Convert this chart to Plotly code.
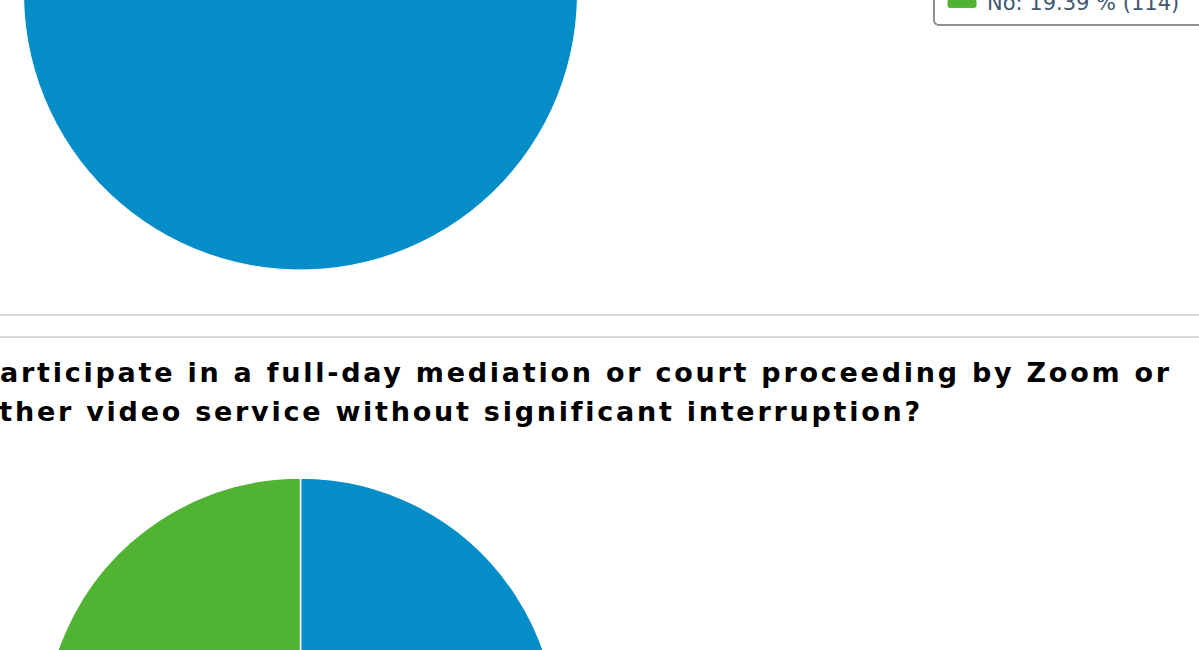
"""Survey results: two pie charts (cropped page view)."""

import plotly.graph_objects as go

# Colour scheme (classic Highcharts palette)
BLUE = "#058DC7"
GREEN = "#50B432"
LEGEND_TEXT = "#3E576F"
RULE = "#d9d9d9"

# Page geometry: the figure is taller than the window and shifted up,
# so only the lower part of the first pie shows, as in the screenshot.
W, H = 1199, 1300
OFFSET = 300

# Data
q1_labels = ["Yes", "No"]
q1_counts = [474, 114]

q2_labels = ["Yes", "No"]
q2_counts = [372, 216]

q2_title = [
    "participate in a full-day mediation or court proceeding by Zoom or",
    "other video service without significant interruption?",
]


def legend_text(labels, counts):
    total = sum(counts)
    return [f"{l}: {c / total * 100:.2f} % ({c})" for l, c in zip(labels, counts)]


def px_domain(cx, cy, r):
    """Pie domain (paper units) for a pie centred at page px cx, cy."""
    return {
        "x": [(cx - r) / W, (cx + r) / W],
        "y": [1 - (cy + r) / H, 1 - (cy - r) / H],
    }


fig = go.Figure()

fig.add_trace(go.Pie(
    labels=legend_text(q1_labels, q1_counts),
    values=q1_counts,
    sort=False,
    direction="clockwise",
    rotation=0,
    textinfo="none",
    hoverinfo="label",
    marker={"colors": [BLUE, GREEN], "line": {"color": "white", "width": 1}},
    domain=px_domain(300.5, OFFSET - 7, 277),
))

fig.add_trace(go.Pie(
    labels=q2_labels,
    values=q2_counts,
    sort=False,
    direction="clockwise",
    rotation=0,
    textinfo="none",
    hoverinfo="label+percent",
    showlegend=False,
    marker={"colors": [BLUE, GREEN], "line": {"color": "white", "width": 1.5}},
    domain=px_domain(300.5, OFFSET + 735, 257),
))

# separator rules between the two questions
for y in (315, 337):
    fig.add_shape(
        type="line", xref="paper", yref="paper",
        x0=0, x1=1, y0=1 - (OFFSET + y) / H, y1=1 - (OFFSET + y) / H,
        line={"color": RULE, "width": 2},
    )

# question title, overflowing the left edge like the original page
for i, line in enumerate(q2_title):
    fig.add_annotation(
        text=f"<b>{line}</b>",
        xref="paper", yref="paper",
        x=-24 / W, y=1 - (OFFSET + 372 + 39 * i) / H,
        xanchor="left", yanchor="middle", align="left",
        showarrow=False,
        font={"family": "DejaVu Sans", "size": 27, "color": "#000000"},
    )

fig.update_layout(
    width=W,
    height=H,
    margin={"l": 0, "r": 0, "t": 0, "b": 0},
    paper_bgcolor="white",
    plot_bgcolor="white",
    font={"family": "DejaVu Sans"},
    legend={
        "x": 933 / W, "xanchor": "left",
        "y": 1 - (OFFSET + 26) / H, "yanchor": "bottom",
        "bgcolor": "white",
        "bordercolor": "#909090",
        "borderwidth": 2,
        "itemwidth": 42,
        "font": {"size": 21, "color": LEGEND_TEXT},
        "traceorder": "normal",
    },
)

# page tweaks: shift the page up, rounded legend box and swatches,
# and the wide letter spacing of the original title
post = """
document.documentElement.style.overflow = 'hidden';
document.body.style.overflow = 'hidden';
document.body.style.margin = '0';
document.body.style.marginTop = '-OFFSETpx';
var gd = document.getElementById('{plot_id}');
gd.querySelectorAll('.legend .bg').forEach(function (r) {
    r.setAttribute('rx', 5); r.setAttribute('ry', 5);
    r.setAttribute('width', parseFloat(r.getAttribute('width')) + 20);
});
gd.querySelectorAll('.legend path.legendpie').forEach(function (p) {
    p.setAttribute('d', 'M-12,-5H12A3,3 0 0 1 15,-2V2A3,3 0 0 1 12,5H-12A3,3 0 0 1 -15,2V-2A3,3 0 0 1 -12,-5Z');
    p.setAttribute('transform', 'translate(27,0)');
});
gd.querySelectorAll('.legend text.legendtext').forEach(function (t) {
    t.setAttribute('y', parseFloat(t.getAttribute('y') || 0) - 2);
});
gd.querySelectorAll('.annotation-text').forEach(function (t) {
    t.style.letterSpacing = '2.75px';
});
""".replace("OFFSET", str(OFFSET))

fig.write_html("out.html", post_script=post)
